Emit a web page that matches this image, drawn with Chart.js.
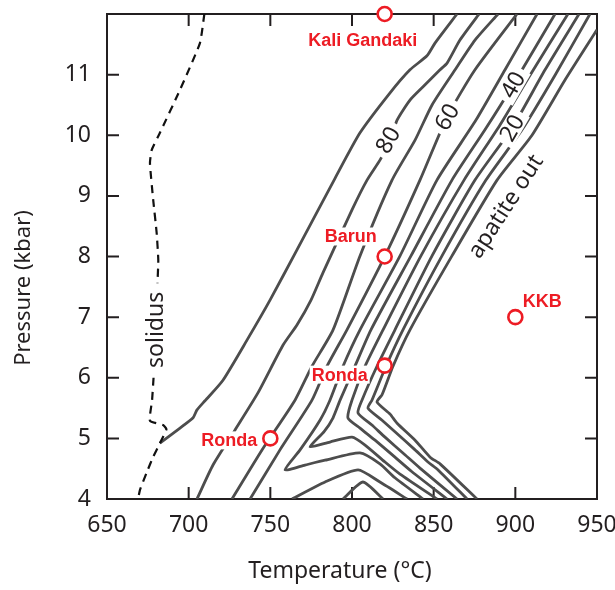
<!DOCTYPE html>
<html>
<head>
<meta charset="utf-8">
<script src="https://cdn.jsdelivr.net/npm/chart.js@4.4.0/dist/chart.umd.min.js"></script>
<style>
  html, body { margin: 0; padding: 0; background: #fff; }
</style>
</head>
<body>
<canvas id="pt" width="615" height="590"></canvas>
<script>
// [temperature °C, pressure kbar]
const solidusUpper = [[709.6,12.0],[706.9,11.52],[694.7,10.75],[682.4,10.04],[677.4,9.76],[676.3,9.54],[678.3,8.93],[680.4,8.39],[681.4,7.94],[680.9,7.56]];
const solidusLower = [[678.5,6.0],[677.6,5.63],[676.3,5.29],[684.3,5.22],[686.4,5.15],[682.4,4.92],[678.2,4.69],[674.2,4.43],[670.2,4.15],[669.0,4.0]];

const iso90 = [[682.4,4.92],[694.7,5.17],[702.7,5.34],[705.1,5.47],[710.0,5.62],[721.0,5.96],[735.7,6.62],[749.8,7.28],[766.3,8.11],[789.6,9.29],[804.9,10.04],[823.3,10.70],[835.5,11.08],[845.9,11.31],[850.8,11.52],[864.3,12.0]];
const iso80 = [[705.1,4.0],[714.9,4.56],[728.4,5.14],[742.4,5.75],[757.8,6.54],[766.3,6.87],[774.9,7.28],[782.2,7.73],[800.0,8.77],[809.2,9.26],[817.1,9.59],[823.3,9.90],[827.6,10.25],[835.5,10.58],[843.5,10.80],[853.9,11.08],[858.2,11.19],[866.1,11.57],[877.8,12.0]];
const iso70 = [[726.5,4.0],[744.9,4.81],[765.1,5.63],[775.5,6.19],[788.4,6.79],[804.9,8.01],[824.5,9.26],[838.6,9.92],[849.0,10.50],[863.1,11.08],[875.3,11.57],[889.4,12.0]];
const iso60 = [[737.6,4.0],[755.9,4.81],[775.5,5.63],[784.7,6.19],[796.9,6.79],[820.2,8.01],[841.6,9.26],[858.2,10.30],[875.3,11.08],[901.0,12.0]];
const iso50 = [[913.3,12.0],[893.7,11.08],[875.9,10.25],[852.0,9.26],[829.4,8.01],[804.9,6.79],[794.5,6.19],[786.5,5.63],[780.4,5.30],[768.2,4.81],[759.0,4.48],[771.2,4.56],[783.5,4.64],[804.9,4.76],[817.1,4.58],[826.3,4.35],[843.5,4.0]];
const iso40 = [[924.3,12.0],[898.6,10.83],[881.4,10.09],[861.2,9.26],[836.1,8.01],[811.6,6.79],[801.8,6.19],[792.7,5.63],[788.4,5.34],[782.9,5.11],[774.3,4.86],[786.5,4.94],[800.0,5.02],[808.0,4.89],[820.2,4.61],[829.4,4.41],[852.0,4.0]];
const iso30 = [[932.2,12.0],[909.0,10.99],[890.6,10.17],[868.6,9.26],[842.2,8.01],[819.0,6.79],[808.0,6.19],[800.0,5.63],[797.5,5.34],[804.9,5.17],[814.1,4.97],[826.3,4.69],[836.7,4.45],[858.2,4.0]];
const iso20 = [[939.0,12.0],[918.2,11.08],[898.0,10.12],[875.3,9.26],[849.0,8.01],[826.3,6.79],[815.3,6.19],[806.1,5.63],[803.7,5.42],[812.2,5.22],[820.2,5.02],[832.4,4.73],[841.6,4.51],[864.3,4.0]];
const iso10 = [[945.7,12.0],[924.3,10.99],[904.1,10.09],[882.0,9.26],[855.1,8.01],[831.2,6.79],[820.8,6.19],[812.2,5.63],[809.8,5.50],[818.4,5.30],[826.3,5.11],[838.6,4.81],[846.5,4.61],[852.7,4.48],[870.4,4.0]];
const apatiteOut = [[950.0,11.74],[930.4,10.91],[910.2,10.0],[888.8,9.26],[861.2,8.01],[835.5,6.79],[825.1,6.19],[818.4,5.72],[815.3,5.60],[823.3,5.40],[827.6,5.25],[838.6,4.97],[847.8,4.69],[853.9,4.58],[876.5,4.0]];
const loopOuter = [[763.3,4.0],[783.5,4.28],[803.7,4.48],[817.1,4.28],[833.7,4.0]];
const loopInner = [[794.5,4.0],[806.7,4.28],[819.0,4.0]];

const sampleNames = ['Kali Gandaki', 'Barun', 'Ronda', 'Ronda', 'KKB'];
const sampleT = [820, 820, 820, 750, 900];
const sampleP = [12, 8, 6.2, 5, 7];

const isoLabels = ['80', '60', '40', '20'];

// where the text goes (data units) and how far sample names sit from their circles (px)
const isoLabelAt = [[822.0, 9.92], [858.2, 10.30], [898.6, 10.83], [898.0, 10.12]];
const nameOffset = [[-22, 26], [-34, -20], [-45, 9], [-41, 2], [27, -16]];

const RED = '#ed1c24';
const INK = '#231f20';
const FONT = "'Noto Sans', sans-serif";

function pts(a) {
    return a.map(p => ({ x: p[0], y: p[1] }));
}

function contour(data, extra) {
    return Object.assign({
        data: pts(data),
        showLine: true,
        pointRadius: 0,
        borderColor: '#4d4d4d',
        borderWidth: 2.8,
        tension: 0.2,
        fill: false,
        order: 2
    }, extra || {});
}

function boxedText(ctx, text, px, py, angle, font, color, pad) {
    ctx.save();
    ctx.translate(px, py);
    ctx.rotate(angle * Math.PI / 180);
    ctx.font = font;
    const w = ctx.measureText(text).width;
    if (pad) {
        ctx.fillStyle = '#fff';
        ctx.fillRect(-w / 2 - pad[0], -pad[1], w + 2 * pad[0], 2 * pad[1]);
    }
    ctx.fillStyle = color;
    ctx.textAlign = 'center';
    ctx.textBaseline = 'middle';
    ctx.fillText(text, 0, 1);
    ctx.restore();
}

const decor = {
    id: 'decor',
    beforeDatasetsDraw(chart) {
        const { ctx, chartArea: a, scales: { x, y } } = chart;
        ctx.save();
        ctx.strokeStyle = INK;
        ctx.lineWidth = 2;
        ctx.beginPath();
        ctx.moveTo(a.left, a.top);
        ctx.lineTo(a.right, a.top);
        ctx.lineTo(a.right, a.bottom);
        // ticks point inwards on all four sides
        x.ticks.forEach(t => {
            if (t.value <= x.min || t.value >= x.max) return;
            const px = x.getPixelForValue(t.value);
            ctx.moveTo(px, a.bottom); ctx.lineTo(px, a.bottom - 12);
            ctx.moveTo(px, a.top); ctx.lineTo(px, a.top + 12);
        });
        y.ticks.forEach(t => {
            if (t.value <= y.min || t.value >= y.max) return;
            const py = y.getPixelForValue(t.value);
            ctx.moveTo(a.left, py); ctx.lineTo(a.left + 12, py);
            ctx.moveTo(a.right, py); ctx.lineTo(a.right - 12, py);
        });
        ctx.stroke();
        ctx.restore();
    },
    afterDatasetsDraw(chart) {
        const { ctx, scales: { x, y } } = chart;

        isoLabels.forEach((txt, i) => {
            const p = isoLabelAt[i];
            boxedText(ctx, txt, x.getPixelForValue(p[0]), y.getPixelForValue(p[1]), -60,
                '23px ' + FONT, INK, [5, 10]);
        });
        boxedText(ctx, 'apatite out', x.getPixelForValue(893.9), y.getPixelForValue(8.83), -57,
            '23px ' + FONT, INK, null);
        boxedText(ctx, 'solidus', x.getPixelForValue(679.4), y.getPixelForValue(6.79), -90,
            '23px ' + FONT, INK, null);

        sampleNames.forEach((name, i) => {
            const px = x.getPixelForValue(sampleT[i]) + nameOffset[i][0];
            const py = y.getPixelForValue(sampleP[i]) + nameOffset[i][1];
            boxedText(ctx, name, px, py, 0, "bold 18px 'Liberation Sans', Arial, sans-serif", RED, [2, 9]);
        });
    },
    afterDraw(chart) {
        const { ctx } = chart;
        ctx.save();
        ctx.fillStyle = INK;
        ctx.font = '23px ' + FONT;
        ctx.textAlign = 'center';
        ctx.textBaseline = 'alphabetic';
        ctx.fillText('Temperature (\u00b0C)', 340, 578);
        ctx.translate(30, 288);
        ctx.rotate(-Math.PI / 2);
        ctx.font = '22px ' + FONT;
        ctx.fillText('Pressure (kbar)', 0, 0);
        ctx.restore();
    }
};

const dash = { borderColor: '#111111', borderWidth: 2.2, borderDash: [8, 6], tension: 0.15 };

new Chart(document.getElementById('pt'), {
    type: 'scatter',
    data: {
        datasets: [
            {
                label: 'samples',
                data: sampleT.map((t, i) => ({ x: t, y: sampleP[i] })),
                pointRadius: 7,
                pointBorderWidth: 2.6,
                pointBorderColor: RED,
                pointBackgroundColor: '#fff',
                showLine: false,
                clip: false,
                order: 0
            },
            contour(solidusUpper, dash),
            contour(solidusLower, dash),
            contour(iso90),
            contour(iso80),
            contour(iso70),
            contour(iso60),
            contour(iso50),
            contour(iso40),
            contour(iso30),
            contour(iso20),
            contour(iso10),
            contour(apatiteOut),
            contour(loopOuter),
            contour(loopInner)
        ]
    },
    options: {
        responsive: false,
        animation: false,
        events: [],
        layout: { padding: { top: 14, right: 18, left: 0, bottom: 0 } },
        plugins: {
            legend: { display: false },
            tooltip: { enabled: false },
            title: { display: false }
        },
        scales: {
            x: {
                type: 'linear',
                min: 650,
                max: 950,
                ticks: { stepSize: 50, padding: 13, color: INK, font: { family: FONT, size: 23 } },
                grid: { drawOnChartArea: false, drawTicks: false },
                border: { display: true, color: INK, width: 2 },
                afterFit(s) { s.height = 91; s.paddingLeft = 0; s.paddingRight = 0; }
            },
            y: {
                type: 'linear',
                min: 4,
                max: 12,
                ticks: {
                    stepSize: 1,
                    padding: 16,
                    color: INK,
                    font: { family: FONT, size: 23 },
                    callback: v => (v === 12 ? '' : v)
                },
                grid: { drawOnChartArea: false, drawTicks: false },
                border: { display: true, color: INK, width: 2 },
                afterFit(s) { s.width = 107; s.paddingTop = 0; s.paddingBottom = 0; }
            }
        }
    },
    plugins: [decor]
});
</script>
</body>
</html>
